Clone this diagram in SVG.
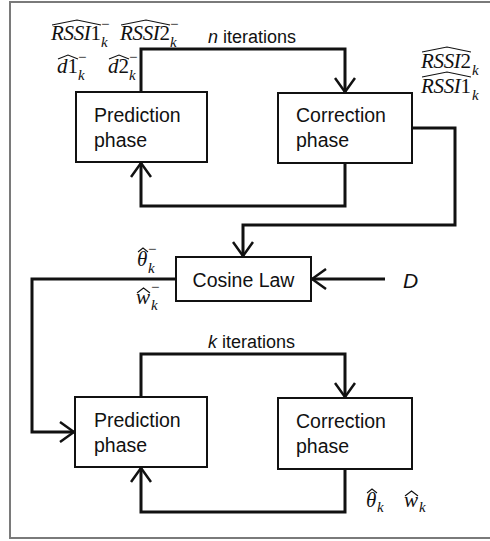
<svg xmlns="http://www.w3.org/2000/svg" width="490" height="541" viewBox="0 0 490 541">
  <style>
    .frame { fill: none; stroke: #7a7a7a; stroke-width: 2; }
    .box { fill: #fff; stroke: #111; stroke-width: 2; }
    .wire { fill: none; stroke: #111; stroke-width: 3; stroke-linejoin: miter; }
    .lbl { font-family: "Liberation Sans", Arial, sans-serif; font-size: 19.5px; fill: #111; }
    .iter { font-family: "Liberation Sans", Arial, sans-serif; font-size: 18px; fill: #111; }
    .m { font-family: "Liberation Serif", "Times New Roman", serif; font-size: 21px; font-style: italic; fill: #111; }
    .up { font-style: normal; }
    .s { font-family: "Liberation Serif", "Times New Roman", serif; font-size: 15px; font-style: italic; fill: #111; }
    .sup { font-family: "Liberation Serif", "Times New Roman", serif; font-size: 15px; fill: #111; }
    .hat { fill: none; stroke: #111; stroke-width: 1.1; }
  </style>
  <defs>
    <marker id="arrow" viewBox="0 0 16 22" refX="15" refY="11" markerWidth="16" markerHeight="22" markerUnits="userSpaceOnUse" orient="auto">
      <path d="M1,1 L15,11 L1,21" fill="none" stroke="#111" stroke-width="2.5"/>
    </marker>
  </defs>

  <rect fill="#fff" width="490" height="541"/>
  <path class="frame" d="M490,2 H10 V538 H490"/>

  <g id="connectors">
    <path class="wire" d="M141,92 V49 H345 V92" marker-end="url(#arrow)"/>
    <path class="wire" d="M345,163 V206 H141 V163" marker-end="url(#arrow)"/>
    <path class="wire" d="M412,128 H455 V225 H243 V256" marker-end="url(#arrow)"/>
    <path class="wire" d="M385,279 H312" marker-end="url(#arrow)"/>
    <path class="wire" d="M176,279 H32 V432 H74" marker-end="url(#arrow)"/>
    <path class="wire" d="M141,397 V354 H345 V397" marker-end="url(#arrow)"/>
    <path class="wire" d="M345,469 V512 H141 V468" marker-end="url(#arrow)"/>
  </g>

  <g id="prediction-top">
    <rect class="box" x="76" y="92" width="131" height="70"/>
    <text class="lbl" x="94" y="122">Prediction</text>
    <text class="lbl" x="94" y="147">phase</text>
  </g>
  <g id="correction-top">
    <rect class="box" x="278" y="93" width="134" height="70"/>
    <text class="lbl" x="296" y="122">Correction</text>
    <text class="lbl" x="296" y="147">phase</text>
  </g>
  <g id="cosine-law">
    <rect class="box" x="176" y="257" width="135" height="44"/>
    <text class="lbl" x="243.5" y="287" text-anchor="middle">Cosine Law</text>
  </g>
  <g id="prediction-bottom">
    <rect class="box" x="75" y="397" width="132" height="70"/>
    <text class="lbl" x="94" y="427">Prediction</text>
    <text class="lbl" x="94" y="452">phase</text>
  </g>
  <g id="correction-bottom">
    <rect class="box" x="278" y="398" width="134" height="71"/>
    <text class="lbl" x="296" y="428">Correction</text>
    <text class="lbl" x="296" y="453">phase</text>
  </g>

  <g id="labels">
    <!-- loop counters -->
    <text class="iter" x="208" y="43"><tspan font-style="italic">n</tspan> iterations</text>
    <text class="iter" x="208" y="348"><tspan font-style="italic">k</tspan> iterations</text>
    <text x="403" y="288" font-family="Liberation Sans, Arial, sans-serif" font-size="21" font-style="italic" fill="#111">D</text>

    <!-- predicted RSSI estimates -->
    <text class="m" x="51" y="40" textLength="50" lengthAdjust="spacing">RSSI<tspan class="up">1</tspan></text>
    <text class="s" x="101" y="47">k</text>
    <text class="sup" x="101" y="29">−</text>
    <path class="hat" d="M52,25 L77,20 L101,25"/>

    <text class="m" x="120" y="40" textLength="50" lengthAdjust="spacing">RSSI<tspan class="up">2</tspan></text>
    <text class="s" x="170" y="47">k</text>
    <text class="sup" x="170" y="29">−</text>
    <path class="hat" d="M121,25 L146,20 L170,25"/>

    <!-- predicted distances -->
    <text class="m" x="57" y="73">d<tspan class="up">1</tspan></text>
    <text class="s" x="78" y="80">k</text>
    <text class="sup" x="78" y="62">−</text>
    <path class="hat" d="M58,59 L68,55 L78,59"/>

    <text class="m" x="108" y="73">d<tspan class="up">2</tspan></text>
    <text class="s" x="129" y="80">k</text>
    <text class="sup" x="129" y="62">−</text>
    <path class="hat" d="M109,59 L119,55 L129,59"/>

    <!-- corrected RSSI estimates -->
    <text class="m" x="421" y="68" textLength="50" lengthAdjust="spacing">RSSI<tspan class="up">2</tspan></text>
    <text class="s" x="472" y="75">k</text>
    <path class="hat" d="M422,52 L447,47 L471,52"/>

    <text class="m" x="421" y="93" textLength="50" lengthAdjust="spacing">RSSI<tspan class="up">1</tspan></text>
    <text class="s" x="472" y="100">k</text>
    <path class="hat" d="M422,77 L447,72 L471,77"/>

    <!-- Cosine Law outputs -->
    <text class="m" x="137" y="266">θ</text>
    <text class="s" x="148" y="273">k</text>
    <text class="sup" x="148" y="254">−</text>
    <path class="hat" d="M138,252 L143,248 L148,252"/>

    <text class="m" x="136" y="304">w</text>
    <text class="s" x="151" y="310">k</text>
    <text class="sup" x="151" y="292">−</text>
    <path class="hat" d="M137,293 L143.5,288 L150,293"/>

    <!-- final estimates -->
    <text class="m" x="366" y="507">θ</text>
    <text class="s" x="377" y="512">k</text>
    <path class="hat" d="M367,493 L372,489 L377,493"/>

    <text class="m" x="404" y="507">w</text>
    <text class="s" x="419" y="512">k</text>
    <path class="hat" d="M405,496 L411.5,491 L418,496"/>
  </g>
</svg>
